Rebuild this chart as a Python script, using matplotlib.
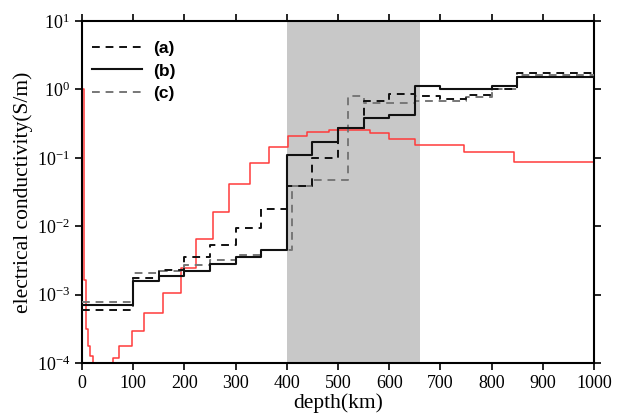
import numpy as np
import matplotlib
matplotlib.use("Agg")
import matplotlib.pyplot as plt
from matplotlib.ticker import LogLocator, NullLocator

plt.rcParams["font.family"] = ["Liberation Serif", "DejaVu Serif"]
plt.rcParams["mathtext.fontset"] = "stix"

# step profiles: edges (km) and conductivity (S/m) per layer
edges_a = [0, 100, 150, 200, 250, 300, 350, 400, 450, 500, 550, 600, 650, 700, 750, 800, 850, 1000]
sigma_a = [6.0e-4, 1.75e-3, 2.3e-3, 3.5e-3, 5.4e-3, 9.4e-3, 0.018, 0.039, 0.10, 0.27,
           0.68, 0.85, 0.80, 0.72, 0.83, 1.03, 1.75]

edges_b = [0, 100, 150, 200, 250, 300, 350, 400, 450, 500, 550, 600, 650, 700, 800, 850, 1000]
sigma_b = [7.0e-4, 1.6e-3, 1.85e-3, 2.24e-3, 2.84e-3, 3.6e-3, 4.5e-3, 0.11, 0.17, 0.275,
           0.38, 0.42, 1.14, 1.0, 1.14, 1.52]

edges_c = [0, 100, 150, 200, 250, 300, 350, 410, 450, 520, 550, 600, 650, 700, 750, 800, 850, 1000]
sigma_c = [7.7e-4, 2.1e-3, 2.25e-3, 2.7e-3, 3.2e-3, 3.8e-3, 4.5e-3, 0.039, 0.048, 0.80,
           0.64, 0.64, 0.67, 0.68, 0.78, 1.0, 1.65]

edges_red = [0, 3, 8, 12, 16, 22, 61, 73, 97, 121, 158, 193, 222, 255, 287, 328, 365, 403,
             440, 483, 562, 600, 650, 747, 843, 1000]
sigma_red = [1.0, 1.66e-3, 3.1e-4, 1.76e-4, 1.26e-4, 5e-5, 1.2e-4, 1.8e-4, 2.9e-4, 5.3e-4,
             1.06e-3, 2.45e-3, 6.4e-3, 0.0164, 0.041, 0.084, 0.146, 0.205, 0.24, 0.257,
             0.227, 0.19, 0.155, 0.12, 0.088, 0.065]

mtz_top, mtz_bottom = 400, 660


def step_xy(edges, vals):
    # last entry closes the final layer
    if len(vals) == len(edges):
        return edges, vals
    return edges, list(vals) + [vals[-1]]


fig = plt.figure(figsize=(6.17, 4.17), dpi=100)
ax = fig.add_axes([0.1329, 0.1295, 0.8298, 0.8201])

ax.axvspan(mtz_top, mtz_bottom, color="#c8c8c8", lw=0, zorder=0)

x, y = step_xy(edges_red, sigma_red)
ax.step(x, y, where="post", color="#ff3b3b", lw=1.1, zorder=2)
x, y = step_xy(edges_c, sigma_c)
lc, = ax.step(x, y, where="post", color="#777777", lw=1.4, dashes=(4, 3), label="(c)", zorder=3)
x, y = step_xy(edges_a, sigma_a)
la, = ax.step(x, y, where="post", color="#111111", lw=1.4, dashes=(4, 3), label="(a)", zorder=4)
x, y = step_xy(edges_b, sigma_b)
lb, = ax.step(x, y, where="post", color="#111111", lw=1.5, label="(b)", zorder=5)

ax.set_yscale("log")
ax.set_xlim(0, 1000)
ax.set_ylim(1e-4, 10)
ax.set_xticks(np.arange(0, 1001, 100))
ax.yaxis.set_major_locator(LogLocator(base=10, numticks=10))
ax.yaxis.set_minor_locator(NullLocator())

ax.tick_params(which="major", direction="out", length=5, width=1.2,
               top=True, right=True, labelsize=13)
for s in ax.spines.values():
    s.set_linewidth(1.5)

ax.set_xlabel("depth(km)", fontsize=15.5, labelpad=1)
ax.set_ylabel("electrical conductivity(S/m)", fontsize=15.5, labelpad=3)

leg = ax.legend(handles=[la, lb, lc], loc="upper left", frameon=False,
                handlelength=2.9, handletextpad=0.6, labelspacing=0.42,
                borderaxespad=0, bbox_to_anchor=(0.006, 0.962),
                prop={"family": "Liberation Sans", "weight": "bold", "size": 12.5})

fig.savefig("out.png", dpi=100)
